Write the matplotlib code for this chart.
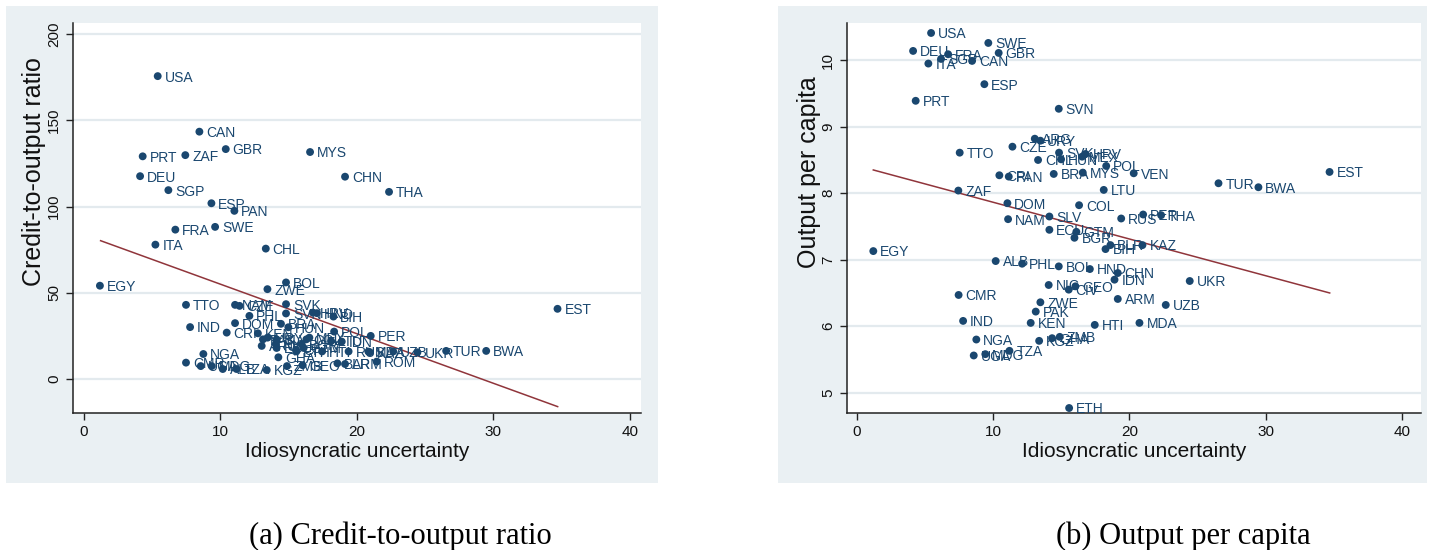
import matplotlib.pyplot as plt
from matplotlib.patches import Rectangle

# ---- data: panel (a) credit-to-output ratio ----
codes_a = ['USA', 'CAN', 'PRT', 'ZAF', 'GBR', 'MYS', 'DEU', 'CHN', 'SGP', 'THA',
           'ESP', 'PAN', 'FRA', 'SWE', 'ITA', 'CHL', 'EGY', 'BOL', 'ZWE', 'TTO',
           'NAM', 'CZE', 'SVK', 'PHL', 'SVN', 'HRV', 'HND', 'BIH', 'DOM', 'IND',
           'BRA', 'HUN', 'CRI', 'KEN', 'POL', 'PER', 'ARG', 'URY', 'PAK', 'COL',
           'LTU', 'MEX', 'NIC', 'SLV', 'IDN', 'GTM', 'ECU', 'BGR', 'CIV', 'ETH',
           'HTI', 'RUS', 'KAZ', 'UZB', 'MDA', 'UKR', 'TUR', 'BWA', 'EST', 'NGA',
           'GHA', 'ZMB', 'GEO', 'BLR', 'ARM', 'ROM', 'CMR', 'UGA', 'MDG', 'ALB',
           'TZA', 'KGZ']
unc_a = [5.43, 8.48, 4.33, 7.45, 10.41, 16.58, 4.14, 19.14, 6.21, 22.36,
         9.36, 11.04, 6.72, 9.63, 5.26, 13.34, 1.2, 14.82, 13.46, 7.50,
         11.09, 11.42, 14.82, 12.14, 14.82, 16.78, 17.07, 18.29, 11.09, 7.80,
         14.45, 14.99, 10.48, 12.76, 18.34, 21.02, 13.04, 13.47, 13.13, 16.31,
         18.12, 16.53, 14.08, 14.13, 18.9, 16.11, 14.13, 15.97, 15.55, 15.58,
         17.46, 19.40, 20.96, 22.67, 20.85, 24.44, 26.54, 29.47, 34.69, 8.77,
         14.26, 14.89, 16.04, 18.58, 19.14, 21.46, 7.50, 8.58, 9.38, 10.19,
         11.2, 13.41]
credit = [175.6, 143.4, 129.1, 129.8, 133.3, 131.6, 117.6, 117.3, 109.5, 108.5,
          101.9, 97.5, 86.6, 88.2, 77.9, 75.6, 54.1, 56.0, 52.1, 43.0,
          43.0, 42.4, 43.4, 36.6, 38.0, 38.5, 38.2, 36.2, 32.4, 30.1,
          32.0, 30.0, 26.9, 26.5, 27.5, 25.0, 19.2, 24.0, 23.0, 23.0,
          22.0, 24.0, 20.0, 23.0, 21.7, 18.0, 18.0, 20.0, 17.0, 16.0,
          16.0, 16.0, 15.5, 16.0, 15.9, 15.5, 16.3, 16.3, 40.7, 14.5,
          12.6, 7.5, 8.0, 9.1, 8.7, 10.1, 9.5, 7.5, 7.5, 5.8,
          5.8, 5.2]
fit_a_x = [1.25, 34.7]
fit_a_y = [80.2, -16.0]

# ---- data: panel (b) output per capita ----
codes_b = ['USA', 'DEU', 'FRA', 'SGP', 'ITA', 'CAN', 'SWE', 'GBR', 'ESP', 'PRT',
           'SVN', 'ARG', 'URY', 'CZE', 'TTO', 'SVK', 'HRV', 'MEX', 'CHL', 'HUN',
           'POL', 'VEN', 'CRI', 'PAN', 'BRA', 'MYS', 'ZAF', 'LTU', 'DOM', 'COL',
           'NAM', 'SLV', 'RUS', 'PER', 'THA', 'ECU', 'GTM', 'BGR', 'BLR', 'BIH',
           'KAZ', 'ALB', 'PHL', 'BOL', 'HND', 'CHN', 'IDN', 'UKR', 'NIC', 'GEO',
           'CIV', 'CMR', 'ARM', 'UZB', 'ZWE', 'PAK', 'KEN', 'HTI', 'MDA', 'IND',
           'NGA', 'KGZ', 'GHA', 'ZMB', 'TZA', 'UGA', 'MDG', 'ETH', 'EGY', 'TUR',
           'BWA', 'EST']
unc_b = [5.45, 4.13, 6.70, 6.18, 5.25, 8.46, 9.65, 10.41, 9.36, 4.32,
         14.82, 13.06, 13.47, 11.42, 7.55, 14.84, 16.78, 16.53, 13.30, 14.99,
         18.30, 20.32, 10.46, 11.15, 14.45, 16.58, 7.45, 18.12, 11.05, 16.31,
         11.10, 14.13, 19.40, 21.01, 22.33, 14.13, 16.11, 15.97, 18.61, 18.25,
         20.96, 10.19, 12.13, 14.82, 17.1, 19.15, 18.91, 24.43, 14.08, 16.04,
         15.55, 7.47, 19.15, 22.67, 13.47, 13.13, 12.76, 17.46, 20.74, 7.80,
         8.77, 13.38, 14.33, 14.89, 11.20, 8.58, 9.43, 15.58, 1.21, 26.54,
         29.47, 34.69]
output = [10.41, 10.14, 10.09, 10.02, 9.95, 9.99, 10.26, 10.11, 9.64, 9.39,
          9.27, 8.82, 8.79, 8.70, 8.61, 8.61, 8.59, 8.55, 8.50, 8.51,
          8.41, 8.30, 8.27, 8.25, 8.29, 8.31, 8.04, 8.05, 7.85, 7.82,
          7.61, 7.65, 7.62, 7.68, 7.67, 7.45, 7.42, 7.33, 7.22, 7.16,
          7.22, 6.98, 6.94, 6.90, 6.86, 6.80, 6.70, 6.68, 6.62, 6.60,
          6.55, 6.47, 6.41, 6.32, 6.36, 6.22, 6.05, 6.02, 6.05, 6.08,
          5.80, 5.78, 5.82, 5.84, 5.63, 5.56, 5.58, 4.77, 7.13, 8.15,
          8.09, 8.32]
fit_b_x = [1.21, 34.7]
fit_b_y = [8.35, 6.50]

navy = '#1a476f'
maroon = '#90353b'
bg = '#eaf0f3'
grid = '#e3eaee'

plt.rcParams['font.family'] = ['Liberation Sans', 'DejaVu Sans']

fig = plt.figure(figsize=(14.32, 5.5), dpi=100)
W, H = 1432.0, 550.0

# outer graph regions (Stata style), kept behind the axes
for x0, x1 in [(6, 658), (778, 1427)]:
    fig.patches.append(Rectangle((x0 / W, 1 - 483 / H), (x1 - x0) / W, (483 - 6) / H,
                                 transform=fig.transFigure, facecolor=bg,
                                 edgecolor='none', zorder=-5))

ax_a = fig.add_axes([73 / W, 1 - 413 / H, (641 - 73) / W, (413 - 23) / H])
ax_b = fig.add_axes([847 / W, 1 - 413 / H, (1421 - 847) / W, (413 - 23) / H])


def style(ax, yticks, ylim, xlim, ylabel, label_x):
    ax.set_zorder(2)
    ax.set_facecolor('white')
    for s in ['top', 'right']:
        ax.spines[s].set_visible(False)
    for s in ['left', 'bottom']:
        ax.spines[s].set_color('#222222')
        ax.spines[s].set_linewidth(1.1)
    ax.set_xlim(*xlim)
    ax.set_ylim(*ylim)
    ax.set_xticks([0, 10, 20, 30, 40])
    ax.set_yticks(yticks)
    ax.tick_params(axis='both', length=5, width=1.0, color='#222222',
                   labelsize=11, labelcolor='#111111')
    plt.setp(ax.get_yticklabels(), rotation=90, va='center')
    ax.yaxis.grid(True, color=grid, linewidth=1.6)
    ax.set_axisbelow(True)
    ax.set_xlabel('Idiosyncratic uncertainty', fontsize=15, labelpad=2, color='#111111')
    ax.set_ylabel(ylabel, fontsize=18, color='#111111')
    ax.yaxis.set_label_coords(label_x, 0.618)


def draw(ax, xs, ys, codes, fx, fy):
    ax.plot(fx, fy, color=maroon, linewidth=1.1, zorder=2)
    ax.scatter(xs, ys, s=32, color=navy, edgecolors='none', zorder=3)
    for c, x, y in zip(codes, xs, ys):
        ax.annotate(c, (x, y), xytext=(5, -1), textcoords='offset points',
                    fontsize=10, color=navy, va='center', ha='left', zorder=4)


style(ax_a, [0, 50, 100, 150, 200], (-19.7, 206.4), (-0.77, 40.8),
      'Credit-to-output ratio', -0.047)
draw(ax_a, unc_a, credit, codes_a, fit_a_x, fit_a_y)

style(ax_b, [5, 6, 7, 8, 9, 10], (4.695, 10.56), (-0.72, 41.4),
      'Output per capita', -0.045)
draw(ax_b, unc_b, output, codes_b, fit_b_x, fit_b_y)

fig.text(400 / W, 1 - 536 / H, '(a) Credit-to-output ratio', ha='center', va='center',
         fontsize=22, family='Liberation Serif')
fig.text(1183 / W, 1 - 536 / H, '(b) Output per capita', ha='center', va='center',
         fontsize=22, family='Liberation Serif')

fig.savefig('out.png', dpi=100, facecolor='white')
